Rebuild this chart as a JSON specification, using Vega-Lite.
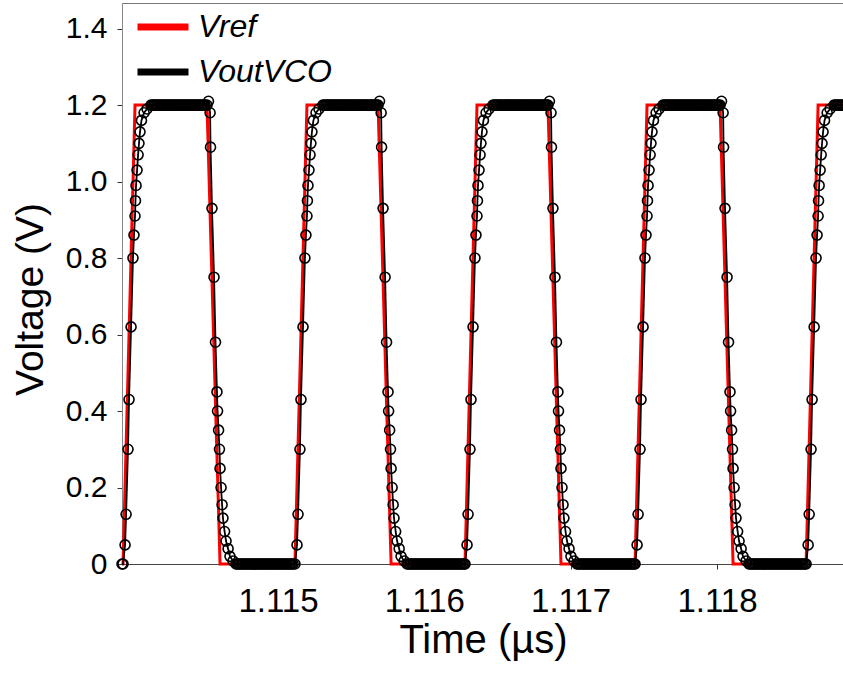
{
"$schema":"https://vega.github.io/schema/vega-lite/v6.json",
"width":722,"height":561,
"autosize":"none",
"padding":{"left":122,"top":3,"right":0,"bottom":111},
"background":"white",
"config":{"font":"Liberation Sans","view":{"stroke":"#777","strokeWidth":1}},
"datasets":{
"ref":[{"t":1.113934,"v":0},{"t":1.113941,"v":0},{"t":1.114023,"v":1.2},{"t":1.114515,"v":1.2},{"t":1.114604,"v":0},{"t":1.115116,"v":0},{"t":1.115198,"v":1.2},{"t":1.115684,"v":1.2},{"t":1.115773,"v":0},{"t":1.116278,"v":0},{"t":1.11636,"v":1.2},{"t":1.116845,"v":1.2},{"t":1.116934,"v":0},{"t":1.11744,"v":0},{"t":1.117522,"v":1.2},{"t":1.118021,"v":1.2},{"t":1.11811,"v":0},{"t":1.118609,"v":0},{"t":1.118691,"v":1.2},{"t":1.118868,"v":1.2}],
"vco":[
{"t":1.113934,"v":0},{"t":1.113941,"v":0},{"t":1.113955,"v":0.05},{"t":1.113962,"v":0.13},{"t":1.113975,"v":0.3},{"t":1.113982,"v":0.43},{"t":1.113996,"v":0.62},{"t":1.114009,"v":0.8},{"t":1.114016,"v":0.86},{"t":1.114023,"v":0.91},{"t":1.114026,"v":0.95},{"t":1.11403,"v":0.99},{"t":1.114037,"v":1.03},{"t":1.114044,"v":1.07},{"t":1.11405,"v":1.1},{"t":1.114057,"v":1.13},{"t":1.114067,"v":1.16},{"t":1.114085,"v":1.18},{"t":1.114105,"v":1.19},{"t":1.114132,"v":1.2},
{"t":1.114142,"v":1.2},{"t":1.114152,"v":1.2},{"t":1.114162,"v":1.2},{"t":1.114172,"v":1.2},{"t":1.114182,"v":1.2},{"t":1.114192,"v":1.2},{"t":1.114202,"v":1.2},{"t":1.114212,"v":1.2},{"t":1.114222,"v":1.2},{"t":1.114232,"v":1.2},{"t":1.114242,"v":1.2},{"t":1.114252,"v":1.2},{"t":1.114262,"v":1.2},{"t":1.114272,"v":1.2},{"t":1.114282,"v":1.2},{"t":1.114292,"v":1.2},{"t":1.114302,"v":1.2},{"t":1.114312,"v":1.2},{"t":1.114322,"v":1.2},{"t":1.114332,"v":1.2},{"t":1.114342,"v":1.2},{"t":1.114352,"v":1.2},{"t":1.114362,"v":1.2},{"t":1.114372,"v":1.2},{"t":1.114382,"v":1.2},{"t":1.114392,"v":1.2},{"t":1.114402,"v":1.2},{"t":1.114412,"v":1.2},{"t":1.114422,"v":1.2},{"t":1.114432,"v":1.2},{"t":1.114442,"v":1.2},{"t":1.114452,"v":1.2},{"t":1.114462,"v":1.2},{"t":1.114472,"v":1.2},{"t":1.114482,"v":1.2},{"t":1.114492,"v":1.2},{"t":1.114502,"v":1.2},
{"t":1.114515,"v":1.2},{"t":1.114525,"v":1.21},{"t":1.114536,"v":1.18},{"t":1.114539,"v":1.09},{"t":1.114549,"v":0.93},{"t":1.114563,"v":0.75},{"t":1.114573,"v":0.58},{"t":1.114583,"v":0.45},{"t":1.114587,"v":0.4},{"t":1.114594,"v":0.35},{"t":1.1146,"v":0.3},{"t":1.114604,"v":0.25},{"t":1.114611,"v":0.2},{"t":1.114618,"v":0.155},{"t":1.114624,"v":0.12},{"t":1.114635,"v":0.085},{"t":1.114645,"v":0.06},{"t":1.114659,"v":0.04},{"t":1.114672,"v":0.02},{"t":1.114693,"v":0.008},{"t":1.114713,"v":0},
{"t":1.114723,"v":0},{"t":1.114733,"v":0},{"t":1.114743,"v":0},{"t":1.114753,"v":0},{"t":1.114763,"v":0},{"t":1.114773,"v":0},{"t":1.114783,"v":0},{"t":1.114793,"v":0},{"t":1.114803,"v":0},{"t":1.114813,"v":0},{"t":1.114823,"v":0},{"t":1.114833,"v":0},{"t":1.114843,"v":0},{"t":1.114853,"v":0},{"t":1.114863,"v":0},{"t":1.114873,"v":0},{"t":1.114883,"v":0},{"t":1.114893,"v":0},{"t":1.114903,"v":0},{"t":1.114913,"v":0},{"t":1.114923,"v":0},{"t":1.114933,"v":0},{"t":1.114943,"v":0},{"t":1.114953,"v":0},{"t":1.114963,"v":0},{"t":1.114973,"v":0},{"t":1.114983,"v":0},{"t":1.114993,"v":0},{"t":1.115003,"v":0},{"t":1.115013,"v":0},{"t":1.115023,"v":0},{"t":1.115033,"v":0},{"t":1.115043,"v":0},{"t":1.115053,"v":0},{"t":1.115063,"v":0},{"t":1.115073,"v":0},{"t":1.115083,"v":0},{"t":1.115093,"v":0},{"t":1.115103,"v":0},
{"t":1.115116,"v":0},{"t":1.11513,"v":0.05},{"t":1.115137,"v":0.13},{"t":1.11515,"v":0.3},{"t":1.115157,"v":0.43},{"t":1.115171,"v":0.62},{"t":1.115184,"v":0.8},{"t":1.115191,"v":0.86},{"t":1.115198,"v":0.91},{"t":1.115201,"v":0.95},{"t":1.115205,"v":0.99},{"t":1.115212,"v":1.03},{"t":1.115219,"v":1.07},{"t":1.115225,"v":1.1},{"t":1.115232,"v":1.13},{"t":1.115242,"v":1.16},{"t":1.11526,"v":1.18},{"t":1.11528,"v":1.19},{"t":1.115307,"v":1.2},
{"t":1.115317,"v":1.2},{"t":1.115327,"v":1.2},{"t":1.115337,"v":1.2},{"t":1.115347,"v":1.2},{"t":1.115357,"v":1.2},{"t":1.115367,"v":1.2},{"t":1.115377,"v":1.2},{"t":1.115387,"v":1.2},{"t":1.115397,"v":1.2},{"t":1.115407,"v":1.2},{"t":1.115417,"v":1.2},{"t":1.115427,"v":1.2},{"t":1.115437,"v":1.2},{"t":1.115447,"v":1.2},{"t":1.115457,"v":1.2},{"t":1.115467,"v":1.2},{"t":1.115477,"v":1.2},{"t":1.115487,"v":1.2},{"t":1.115497,"v":1.2},{"t":1.115507,"v":1.2},{"t":1.115517,"v":1.2},{"t":1.115527,"v":1.2},{"t":1.115537,"v":1.2},{"t":1.115547,"v":1.2},{"t":1.115557,"v":1.2},{"t":1.115567,"v":1.2},{"t":1.115577,"v":1.2},{"t":1.115587,"v":1.2},{"t":1.115597,"v":1.2},{"t":1.115607,"v":1.2},{"t":1.115617,"v":1.2},{"t":1.115627,"v":1.2},{"t":1.115637,"v":1.2},{"t":1.115647,"v":1.2},{"t":1.115657,"v":1.2},{"t":1.115667,"v":1.2},{"t":1.115677,"v":1.2},
{"t":1.115684,"v":1.2},{"t":1.115694,"v":1.21},{"t":1.115705,"v":1.18},{"t":1.115708,"v":1.09},{"t":1.115718,"v":0.93},{"t":1.115732,"v":0.75},{"t":1.115742,"v":0.58},{"t":1.115752,"v":0.45},{"t":1.115756,"v":0.4},{"t":1.115763,"v":0.35},{"t":1.115769,"v":0.3},{"t":1.115773,"v":0.25},{"t":1.11578,"v":0.2},{"t":1.115787,"v":0.155},{"t":1.115793,"v":0.12},{"t":1.115804,"v":0.085},{"t":1.115814,"v":0.06},{"t":1.115828,"v":0.04},{"t":1.115841,"v":0.02},{"t":1.115862,"v":0.008},{"t":1.115882,"v":0},
{"t":1.115892,"v":0},{"t":1.115902,"v":0},{"t":1.115912,"v":0},{"t":1.115922,"v":0},{"t":1.115932,"v":0},{"t":1.115942,"v":0},{"t":1.115952,"v":0},{"t":1.115962,"v":0},{"t":1.115972,"v":0},{"t":1.115982,"v":0},{"t":1.115992,"v":0},{"t":1.116002,"v":0},{"t":1.116012,"v":0},{"t":1.116022,"v":0},{"t":1.116032,"v":0},{"t":1.116042,"v":0},{"t":1.116052,"v":0},{"t":1.116062,"v":0},{"t":1.116072,"v":0},{"t":1.116082,"v":0},{"t":1.116092,"v":0},{"t":1.116102,"v":0},{"t":1.116112,"v":0},{"t":1.116122,"v":0},{"t":1.116132,"v":0},{"t":1.116142,"v":0},{"t":1.116152,"v":0},{"t":1.116162,"v":0},{"t":1.116172,"v":0},{"t":1.116182,"v":0},{"t":1.116192,"v":0},{"t":1.116202,"v":0},{"t":1.116212,"v":0},{"t":1.116222,"v":0},{"t":1.116232,"v":0},{"t":1.116242,"v":0},{"t":1.116252,"v":0},{"t":1.116262,"v":0},{"t":1.116272,"v":0},
{"t":1.116278,"v":0},{"t":1.116292,"v":0.05},{"t":1.116299,"v":0.13},{"t":1.116312,"v":0.3},{"t":1.116319,"v":0.43},{"t":1.116333,"v":0.62},{"t":1.116346,"v":0.8},{"t":1.116353,"v":0.86},{"t":1.11636,"v":0.91},{"t":1.116363,"v":0.95},{"t":1.116367,"v":0.99},{"t":1.116374,"v":1.03},{"t":1.116381,"v":1.07},{"t":1.116387,"v":1.1},{"t":1.116394,"v":1.13},{"t":1.116404,"v":1.16},{"t":1.116422,"v":1.18},{"t":1.116442,"v":1.19},{"t":1.116469,"v":1.2},
{"t":1.116479,"v":1.2},{"t":1.116489,"v":1.2},{"t":1.116499,"v":1.2},{"t":1.116509,"v":1.2},{"t":1.116519,"v":1.2},{"t":1.116529,"v":1.2},{"t":1.116539,"v":1.2},{"t":1.116549,"v":1.2},{"t":1.116559,"v":1.2},{"t":1.116569,"v":1.2},{"t":1.116579,"v":1.2},{"t":1.116589,"v":1.2},{"t":1.116599,"v":1.2},{"t":1.116609,"v":1.2},{"t":1.116619,"v":1.2},{"t":1.116629,"v":1.2},{"t":1.116639,"v":1.2},{"t":1.116649,"v":1.2},{"t":1.116659,"v":1.2},{"t":1.116669,"v":1.2},{"t":1.116679,"v":1.2},{"t":1.116689,"v":1.2},{"t":1.116699,"v":1.2},{"t":1.116709,"v":1.2},{"t":1.116719,"v":1.2},{"t":1.116729,"v":1.2},{"t":1.116739,"v":1.2},{"t":1.116749,"v":1.2},{"t":1.116759,"v":1.2},{"t":1.116769,"v":1.2},{"t":1.116779,"v":1.2},{"t":1.116789,"v":1.2},{"t":1.116799,"v":1.2},{"t":1.116809,"v":1.2},{"t":1.116819,"v":1.2},{"t":1.116829,"v":1.2},{"t":1.116839,"v":1.2},
{"t":1.116845,"v":1.2},{"t":1.116855,"v":1.21},{"t":1.116866,"v":1.18},{"t":1.116869,"v":1.09},{"t":1.116879,"v":0.93},{"t":1.116893,"v":0.75},{"t":1.116903,"v":0.58},{"t":1.116913,"v":0.45},{"t":1.116917,"v":0.4},{"t":1.116924,"v":0.35},{"t":1.11693,"v":0.3},{"t":1.116934,"v":0.25},{"t":1.116941,"v":0.2},{"t":1.116948,"v":0.155},{"t":1.116954,"v":0.12},{"t":1.116965,"v":0.085},{"t":1.116975,"v":0.06},{"t":1.116989,"v":0.04},{"t":1.117002,"v":0.02},{"t":1.117023,"v":0.008},{"t":1.117043,"v":0},
{"t":1.117053,"v":0},{"t":1.117063,"v":0},{"t":1.117073,"v":0},{"t":1.117083,"v":0},{"t":1.117093,"v":0},{"t":1.117103,"v":0},{"t":1.117113,"v":0},{"t":1.117123,"v":0},{"t":1.117133,"v":0},{"t":1.117143,"v":0},{"t":1.117153,"v":0},{"t":1.117163,"v":0},{"t":1.117173,"v":0},{"t":1.117183,"v":0},{"t":1.117193,"v":0},{"t":1.117203,"v":0},{"t":1.117213,"v":0},{"t":1.117223,"v":0},{"t":1.117233,"v":0},{"t":1.117243,"v":0},{"t":1.117253,"v":0},{"t":1.117263,"v":0},{"t":1.117273,"v":0},{"t":1.117283,"v":0},{"t":1.117293,"v":0},{"t":1.117303,"v":0},{"t":1.117313,"v":0},{"t":1.117323,"v":0},{"t":1.117333,"v":0},{"t":1.117343,"v":0},{"t":1.117353,"v":0},{"t":1.117363,"v":0},{"t":1.117373,"v":0},{"t":1.117383,"v":0},{"t":1.117393,"v":0},{"t":1.117403,"v":0},{"t":1.117413,"v":0},{"t":1.117423,"v":0},{"t":1.117433,"v":0},
{"t":1.11744,"v":0},{"t":1.117454,"v":0.05},{"t":1.117461,"v":0.13},{"t":1.117474,"v":0.3},{"t":1.117481,"v":0.43},{"t":1.117495,"v":0.62},{"t":1.117508,"v":0.8},{"t":1.117515,"v":0.86},{"t":1.117522,"v":0.91},{"t":1.117525,"v":0.95},{"t":1.117529,"v":0.99},{"t":1.117536,"v":1.03},{"t":1.117543,"v":1.07},{"t":1.117549,"v":1.1},{"t":1.117556,"v":1.13},{"t":1.117566,"v":1.16},{"t":1.117584,"v":1.18},{"t":1.117604,"v":1.19},{"t":1.117631,"v":1.2},
{"t":1.117641,"v":1.2},{"t":1.117651,"v":1.2},{"t":1.117661,"v":1.2},{"t":1.117671,"v":1.2},{"t":1.117681,"v":1.2},{"t":1.117691,"v":1.2},{"t":1.117701,"v":1.2},{"t":1.117711,"v":1.2},{"t":1.117721,"v":1.2},{"t":1.117731,"v":1.2},{"t":1.117741,"v":1.2},{"t":1.117751,"v":1.2},{"t":1.117761,"v":1.2},{"t":1.117771,"v":1.2},{"t":1.117781,"v":1.2},{"t":1.117791,"v":1.2},{"t":1.117801,"v":1.2},{"t":1.117811,"v":1.2},{"t":1.117821,"v":1.2},{"t":1.117831,"v":1.2},{"t":1.117841,"v":1.2},{"t":1.117851,"v":1.2},{"t":1.117861,"v":1.2},{"t":1.117871,"v":1.2},{"t":1.117881,"v":1.2},{"t":1.117891,"v":1.2},{"t":1.117901,"v":1.2},{"t":1.117911,"v":1.2},{"t":1.117921,"v":1.2},{"t":1.117931,"v":1.2},{"t":1.117941,"v":1.2},{"t":1.117951,"v":1.2},{"t":1.117961,"v":1.2},{"t":1.117971,"v":1.2},{"t":1.117981,"v":1.2},{"t":1.117991,"v":1.2},{"t":1.118001,"v":1.2},{"t":1.118011,"v":1.2},
{"t":1.118021,"v":1.2},{"t":1.118031,"v":1.21},{"t":1.118042,"v":1.18},{"t":1.118045,"v":1.09},{"t":1.118055,"v":0.93},{"t":1.118069,"v":0.75},{"t":1.118079,"v":0.58},{"t":1.118089,"v":0.45},{"t":1.118093,"v":0.4},{"t":1.1181,"v":0.35},{"t":1.118106,"v":0.3},{"t":1.11811,"v":0.25},{"t":1.118117,"v":0.2},{"t":1.118124,"v":0.155},{"t":1.11813,"v":0.12},{"t":1.118141,"v":0.085},{"t":1.118151,"v":0.06},{"t":1.118165,"v":0.04},{"t":1.118178,"v":0.02},{"t":1.118199,"v":0.008},{"t":1.118219,"v":0},
{"t":1.118229,"v":0},{"t":1.118239,"v":0},{"t":1.118249,"v":0},{"t":1.118259,"v":0},{"t":1.118269,"v":0},{"t":1.118279,"v":0},{"t":1.118289,"v":0},{"t":1.118299,"v":0},{"t":1.118309,"v":0},{"t":1.118319,"v":0},{"t":1.118329,"v":0},{"t":1.118339,"v":0},{"t":1.118349,"v":0},{"t":1.118359,"v":0},{"t":1.118369,"v":0},{"t":1.118379,"v":0},{"t":1.118389,"v":0},{"t":1.118399,"v":0},{"t":1.118409,"v":0},{"t":1.118419,"v":0},{"t":1.118429,"v":0},{"t":1.118439,"v":0},{"t":1.118449,"v":0},{"t":1.118459,"v":0},{"t":1.118469,"v":0},{"t":1.118479,"v":0},{"t":1.118489,"v":0},{"t":1.118499,"v":0},{"t":1.118509,"v":0},{"t":1.118519,"v":0},{"t":1.118529,"v":0},{"t":1.118539,"v":0},{"t":1.118549,"v":0},{"t":1.118559,"v":0},{"t":1.118569,"v":0},{"t":1.118579,"v":0},{"t":1.118589,"v":0},{"t":1.118599,"v":0},
{"t":1.118609,"v":0},{"t":1.118623,"v":0.05},{"t":1.11863,"v":0.13},{"t":1.118643,"v":0.3},{"t":1.11865,"v":0.43},{"t":1.118664,"v":0.62},{"t":1.118677,"v":0.8},{"t":1.118684,"v":0.86},{"t":1.118691,"v":0.91},{"t":1.118694,"v":0.95},{"t":1.118698,"v":0.99},{"t":1.118705,"v":1.03},{"t":1.118712,"v":1.07},{"t":1.118718,"v":1.1},{"t":1.118725,"v":1.13},{"t":1.118735,"v":1.16},{"t":1.118753,"v":1.18},{"t":1.118773,"v":1.19},{"t":1.1188,"v":1.2},{"t":1.11881,"v":1.2},{"t":1.11882,"v":1.2},{"t":1.11883,"v":1.2},{"t":1.11884,"v":1.2},{"t":1.11885,"v":1.2},{"t":1.11886,"v":1.2}
]},
"encoding":{
"x":{"field":"t","type":"quantitative","scale":{"domain":[1.113934,1.118868],"nice":false,"zero":false},
"axis":{"values":[1.115,1.116,1.117,1.118],"format":".3f","labelFontSize":33,"labelColor":"#000","labelPadding":16,"labelFlush":false,"labelOverlap":false,"tickSize":5,"tickColor":"#333","domainColor":"#444","grid":false,"title":"Time (µs)","titleFontSize":40,"titleFontWeight":"normal","titleColor":"#000","titleBaseline":"top","titleY":56}},
"y":{"field":"v","type":"quantitative","scale":{"domain":[0,1.467],"nice":false,"zero":false},
"axis":{"values":[0,0.2,0.4,0.6,0.8,1.0,1.2,1.4],"labelExpr":"datum.value == 0 ? '0' : format(datum.value, '.1f')","labelFontSize":30,"labelColor":"#000","labelPadding":10,"labelFlush":false,"labelOverlap":false,"tickSize":5,"tickColor":"#333","domainColor":"#888","grid":false,"title":"Voltage (V)","titleFontSize":39,"titleFontWeight":"normal","titleColor":"#000","titleAngle":270,"titleBaseline":"middle","titleAlign":"center","titleX":-92,"titleY":296}}
},
"layer":[
{"data":{"name":"ref"},"mark":{"type":"line","strokeWidth":3},
"encoding":{"color":{"datum":"Vref","type":"nominal","scale":{"domain":["Vref","VoutVCO"],"range":["#ff0000","#000000"]},
"legend":{"title":null,"orient":"none","legendX":12,"legendY":-5,"padding":0,"symbolType":"stroke","symbolSize":2600,"symbolStrokeWidth":7,"labelFontSize":32,"labelFontStyle":"italic","labelColor":"#000","labelOffset":6,"rowPadding":0}}}},
{"data":{"name":"vco"},"mark":{"type":"line","strokeWidth":1.8},
"encoding":{"color":{"datum":"VoutVCO","type":"nominal"}}},
{"data":{"name":"vco"},"mark":{"type":"point","shape":"circle","filled":false,"color":"#000","size":100,"strokeWidth":1.6,"opacity":1}}
]
}
